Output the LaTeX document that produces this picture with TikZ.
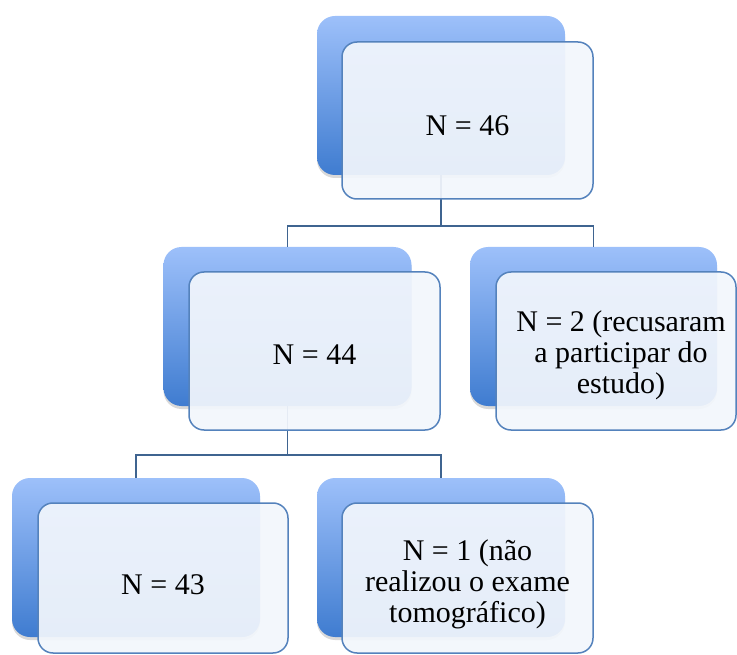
\documentclass[tikz,border=0pt]{standalone}
\usepackage{fontspec}
\setmainfont{Liberation Serif}
\usetikzlibrary{shadows}
\definecolor{backtop}{HTML}{9DC0FA}
\definecolor{backbot}{HTML}{3F7CD0}
\definecolor{frontfill}{HTML}{F2F6FC}
\definecolor{frontline}{HTML}{5482BC}
\definecolor{linkcol}{HTML}{3F6490}
\begin{document}
\begin{tikzpicture}[x=1pt,y=-1pt,
  backbox/.style={rectangle, rounded corners=18pt, minimum width=248pt, minimum height=159pt,
    inner sep=0pt, top color=backtop, bottom color=backbot, draw=none,
    drop shadow={shadow xshift=0pt, shadow yshift=-3pt, opacity=0.3}},
  frontbox/.style={rectangle, rounded corners=15pt, minimum width=251pt, minimum height=157pt,
    inner sep=0pt, fill=frontfill, fill opacity=0.93, draw=frontline, draw opacity=1, line width=1.5pt},
  boxtext/.style={font=\fontsize{30}{31}\selectfont, text=black, text opacity=1, fill opacity=0, align=center},
  link/.style={draw=linkcol, line width=1.6pt}
]
\useasboundingbox (0,0) rectangle (737,655);
% back boxes
\node[backbox] (b1) at (441,95.5) {};
\node[backbox] (b2) at (287.5,326.5) {};
\node[backbox, minimum width=247pt] (b3) at (593.5,326.5) {};
\node[backbox] (b4) at (136,557.5) {};
\node[backbox] (b5) at (441,557.5) {};
% connectors
\draw[link] (b1.south) -- ++(0,51) coordinate (j1);
\draw[link] (j1) -| (b2.north);
\draw[link] (j1) -| (b3.north);
\draw[link] (b2.south) -- ++(0,49) coordinate (j2);
\draw[link] (j2) -| (b4.north);
\draw[link] (j2) -| (b5.north);
% front boxes
\node[frontbox, label={[boxtext, yshift=-5pt]center:N = 46}] (f1) at (467.5,120.5) {};
\node[frontbox, minimum height=158pt, label={[boxtext, yshift=-4pt]center:N = 44}] (f2) at (314.5,351) {};
\node[frontbox, minimum width=240pt, minimum height=158pt,
  label={[boxtext, xshift=5pt, yshift=-4pt]center:N = 2 (recusaram\\a participar do\\estudo)}] (f3) at (616,351) {};
\node[frontbox, minimum width=250pt, minimum height=150pt, label={[boxtext, yshift=-7pt]center:N = 43}] (f4) at (163,578) {};
\node[frontbox, minimum height=150pt,
  label={[boxtext, yshift=-6pt]center:N = 1 (não\\realizou o exame\\tomográfico)}] (f5) at (467.5,578) {};
\end{tikzpicture}
\end{document}
